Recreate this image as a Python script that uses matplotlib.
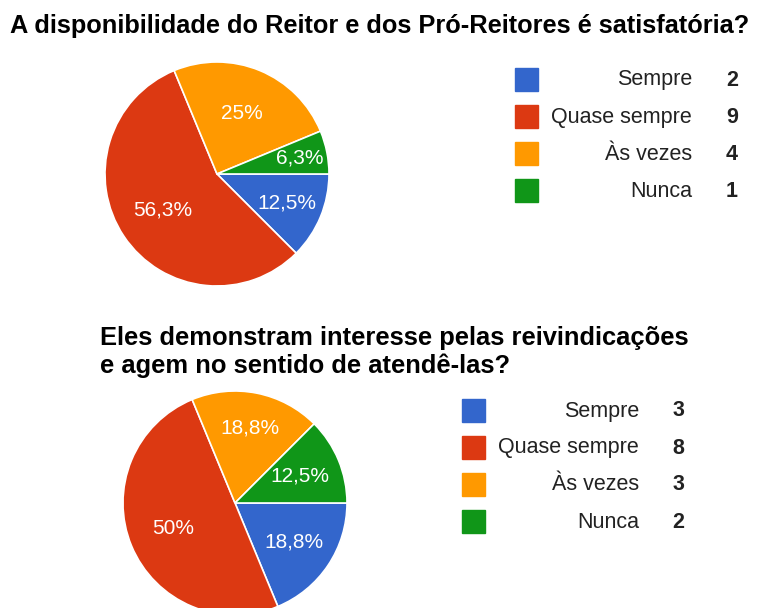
import math
import matplotlib
matplotlib.use("Agg")
import matplotlib.pyplot as plt
from matplotlib.patches import Rectangle

plt.rcParams['font.family'] = ['Liberation Sans', 'DejaVu Sans']

# Survey answers
answers = ["Sempre", "Quase sempre", "Às vezes", "Nunca"]
counts_q1 = [2, 9, 4, 1]
counts_q2 = [3, 8, 3, 2]
title_q1 = "A disponibilidade do Reitor e dos Pró-Reitores é satisfatória?"
title_q2 = "Eles demonstram interesse pelas reivindicações\ne agem no sentido de atendê-las?"

colors = ["#3366CC", "#DC3912", "#FF9900", "#109618"]

W, H = 761, 608
fig = plt.figure(figsize=(W / 100, H / 100), dpi=100)


def pct_label(n, total):
    p = math.floor(100 * n / total * 10 + 0.5) / 10
    return f"{p:g}".replace(".", ",") + "%"


def draw_pie(counts, cx, cy, r, label_r):
    ax = fig.add_axes([(cx - r) / W, 1 - (cy + r) / H, 2 * r / W, 2 * r / H])
    wedges, _ = ax.pie(counts, colors=colors, startangle=0, counterclock=False,
                       wedgeprops=dict(edgecolor="white", linewidth=1.2))
    total = sum(counts)
    for w, n, d in zip(wedges, counts, label_r):
        mid = math.radians((w.theta1 + w.theta2) / 2)
        ax.text(d * math.cos(mid), d * math.sin(mid), pct_label(n, total),
                color="white", fontsize=15, ha="center", va="center")
    ax.set_xlim(-1, 1)
    ax.set_ylim(-1, 1)
    ax.axis("off")


def draw_legend(counts, x_box, x_text, x_num, y0, step):
    for i, (name, n) in enumerate(zip(answers, counts)):
        y = y0 + i * step
        fig.patches.append(Rectangle(((x_box) / W, 1 - (y + 11.5) / H), 23 / W, 23 / H,
                                     transform=fig.transFigure, color=colors[i]))
        fig.text(x_text / W, 1 - (y + 1) / H, name, ha="right", va="center",
                 fontsize=15.5, color="#222222")
        fig.text(x_num / W, 1 - (y + 1) / H, str(n), ha="center", va="center",
                 fontsize=15.5, fontweight="bold", color="#222222")


fig.text(10 / W, 1 - 26 / H, title_q1, ha="left", va="center",
         fontsize=18.3, fontweight="bold", color="black")
fig.text(100 / W, 1 - 352 / H, title_q2, ha="left", va="center",
         fontsize=18.4, fontweight="bold", color="black", linespacing=1.2)

draw_pie(counts_q1, 217, 174, 112, [0.68, 0.58, 0.58, 0.75])
draw_legend(counts_q1, 515, 692, 732, 79, 37.3)

draw_pie(counts_q2, 235, 503, 112, [0.63, 0.6, 0.68, 0.63])
draw_legend(counts_q2, 462, 639, 678, 410, 37)

fig.savefig("out.png", dpi=100)
